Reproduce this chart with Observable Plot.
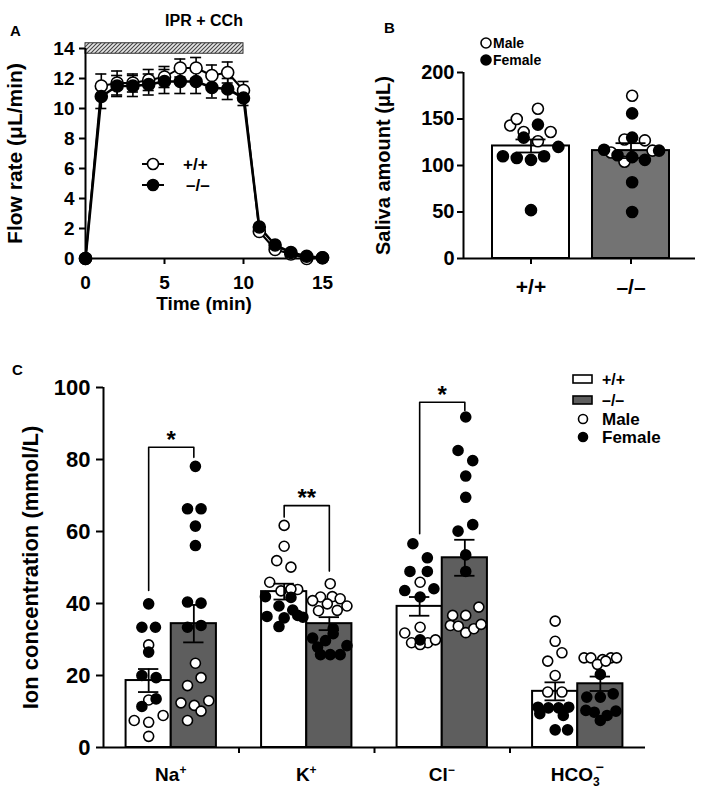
<!DOCTYPE html>
<html><head><meta charset="utf-8">
<script src="https://cdn.jsdelivr.net/npm/d3@7"></script>
<script src="https://cdn.jsdelivr.net/npm/@observablehq/plot@0.6"></script>
<style>
body{margin:0;background:white;}
#fig{position:relative;width:709px;height:791px;overflow:hidden;background:white;}
#fig svg{position:absolute;overflow:visible;}
</style></head><body><div id="fig"></div>
<script>
const FONT = '"Liberation Sans", Arial, Helvetica, sans-serif';

// ---------- Panel A data ----------
const panelATitle = "IPR + CCh";
const timeMin   = [0, 1, 2, 3, 4, 5, 6, 7, 8, 9, 10, 11, 12, 13, 14, 15];
const flowWT    = [0, 11.5, 11.7, 11.7, 11.9, 12.1, 12.7, 12.7, 12.2, 12.4, 11.2, 1.8, 0.6, 0.3, 0.0, 0.05];
const flowWTse  = [0, 0.8, 0.8, 0.6, 0.7, 0.7, 0.6, 0.7, 0.7, 0.7, 0.6, 0.2, 0.2, 0.1, 0.1, 0.05];
const flowKO    = [0, 10.8, 11.5, 11.5, 11.6, 11.8, 11.8, 11.8, 11.4, 11.3, 10.7, 2.1, 0.9, 0.4, 0.15, 0.05];
const flowKOse  = [0, 0.8, 0.7, 0.7, 0.7, 0.8, 0.8, 0.8, 0.7, 0.7, 0.5, 0.2, 0.2, 0.1, 0.1, 0.05];
const stimWindow = [0, 10];      // stimulation period (min)
const stimBand   = [13.65, 14.35];
const flowTicksY = [0, 2, 4, 6, 8, 10, 12, 14];
const flowTicksX = [0, 5, 10, 15];

// ---------- Panel B data ----------
const genotypes = ["+/+", "\u2013/\u2013"];
const salivaMean = [121, 116];
const salivaSE   = [7, 8];
// [value, sex, jitter (fraction of half bar width)]
const salivaWT = [
  [143,"M",-0.54],[150,"M",-0.37],[161,"M",0.18],[136,"M",-0.19],[136,"M",0.51],[126,"M",0.18],
  [144,"F",0.18],[130,"F",-0.19],[120,"F",0.71],[110,"F",-0.73],[108,"F",-0.37],[106,"F",0],[110,"F",0.34],[52,"F",0]
];
const salivaKO = [
  [175,"M",0.03],[128,"M",-0.17],[127,"M",0.36],[114,"M",-0.52],[104,"M",-0.17],[116,"M",0.56],
  [156,"F",0.03],[130,"F",0.03],[117,"F",-0.70],[111,"F",-0.35],[109,"F",0.03],[106,"F",0.36],[116,"F",0.73],[82,"F",0.03],[50,"F",0.03]
];
const salivaTicks = [0, 50, 100, 150, 200];

// ---------- Panel C data ----------
const ionNames  = ["Na", "K", "Cl", "HCO"];
const ionCharge = ["+", "+", "\u2212", "\u2212"];
const ionSub    = ["", "", "", "3"];
const ionMeanWT = [18.6, 43.3, 39.2, 15.6];
const ionSeWT   = [3.2, 2.2, 2.6, 2.5];
const ionMeanKO = [34.4, 34.4, 52.7, 17.7];
const ionSeKO   = [5.2, 1.8, 5.0, 2.0];
const naWT = [[39.9,"F",0],[33.4,"F",-0.3],[33.4,"F",0.3],[28.5,"M",0],[26.5,"F",0],[20,"F",-0.3],[19.4,"F",0.33],
  [13.2,"M",0],[13.5,"F",0.33],[11.4,"F",-0.3],[7.5,"M",-0.64],[7,"M",0],[8.9,"M",0.64],[3.1,"M",0]];
const naKO = [[78.1,"F",0.07],[66.3,"F",-0.28],[66.3,"F",0.32],[61.5,"F",0.07],[56.1,"F",0.07],[40.4,"F",-0.28],[40.1,"F",0.32],
  [33.4,"F",-0.28],[33.9,"F",0.32],[23.4,"M",0.07],[19.4,"M",0.32],[17.2,"M",-0.28],[12.4,"M",-0.57],[11.7,"M",0.02],
  [13,"M",0.66],[10.1,"M",0.32],[7.5,"M",-0.28]];
const kWT = [[61.7,"M",0],[55.9,"M",0],[51.9,"M",-0.33],[50.1,"M",0.3],[45.9,"M",-0.64],[43.9,"M",0.6],[43.5,"M",-0.14],[44,"M",0.3],
  [41.9,"F",-0.83],[41.7,"F",0.3],[39.3,"F",-0.23],[36.4,"F",-0.76],[38.2,"F",0.38],[36.7,"F",0.6],[36.2,"F",0.83],[36,"F",0],[33.6,"F",-0.23]];
const kKO = [[45.5,"M",0.04],[41.8,"M",-0.39],[41.9,"M",0.13],[41.3,"M",0.48],[40.8,"M",-0.74],[39.9,"M",-0.09],[39.3,"M",0.78],[38,"M",-0.48],[38.1,"M",0.35],
  [30.4,"F",-0.74],[29.7,"F",-0.17],[31.6,"F",0.17],[27.9,"F",-0.52],[28.3,"F",0.78],[25.8,"F",-0.39],[25.8,"F",0.04],[25.8,"F",0.48],[33,"F",0.17]];
const clWT = [[56.6,"F",-0.3],[52.7,"F",0.34],[48.9,"F",-0.43],[48.9,"F",0.34],[45.9,"M",0.02],[43.6,"F",-0.66],[44.1,"F",0.63],[41.8,"F",0.02],
  [33.4,"M",0.02],[31.8,"M",-0.66],[29.1,"M",-0.36],[29.1,"M",0.36],[29.9,"M",0.7],[28.6,"M",0.02],[29.9,"F",0.02]];
const clKO = [[91.8,"F",0.04],[82.5,"F",-0.3],[79.7,"F",0.35],[75.4,"F",0.04],[69.5,"F",0.04],[61.9,"F",0.35],[60.1,"F",-0.3],[53.5,"F",0.04],[48.9,"F",0.04],
  [36.7,"M",-0.54],[36.7,"M",0.04],[39,"M",0.62],[33.9,"M",-0.64],[33.7,"M",-0.29],[31.9,"M",0.04],[33,"M",0.4],[34.2,"M",0.72]];
const hcoWT = [[35.1,"M",0],[29.5,"M",0],[26.3,"M",0.3],[24,"M",-0.33],[20,"M",0],[15.4,"M",-0.33],[15.4,"M",0.3],
  [11.2,"F",-0.76],[11,"F",-0.3],[11,"F",0.15],[11.2,"F",0.6],[9.4,"F",-0.68],[8.9,"F",0.36],[4.9,"F",0],[4.9,"F",0.55]];
const hcoKO = [[24.9,"M",-0.72],[24.9,"M",-0.42],[24.4,"M",0.1],[24.9,"M",0.47],[24.9,"M",0.72],[23.1,"M",-0.13],[24,"M",0.24],
  [20.3,"F",0],[14,"F",-0.6],[14,"F",0],[14.9,"F",0.57],[10.3,"F",-0.64],[9.8,"F",-0.27],[10.1,"F",0.69],[8.9,"F",0.3],[7.5,"F",0]];
const ionPointSets = [[naWT, naKO], [kWT, kKO], [clWT, clKO], [hcoWT, hcoKO]];
// significance brackets: ion index, label, WT start, top, KO end
const sigIon   = [0, 1, 2];
const sigLabel = ["*", "**", "*"];
const sigLeft  = [43.6, 64, 59.4];
const sigTop   = [83.4, 67.2, 95.9];
const sigRight = [80.6, 49, 93.6];
const ionTicks = [0, 20, 40, 60, 80, 100];

const fig = document.getElementById("fig");
const baseStyle = (fs) => ({background: "transparent", color: "black", fontFamily: FONT, fontWeight: "bold", fontSize: fs + "px", overflow: "visible"});

function place(svg, left, top) {
  svg.style.left = left + "px"; svg.style.top = top + "px";
  fig.appendChild(svg);
  return d3.select(svg);
}
function addText(sel, x, y, txt, fs, anchor = "start") {
  return sel.append("text").attr("x", x).attr("y", y).attr("dy", "0.35em")
    .attr("font-family", FONT).attr("font-weight", "bold").attr("font-size", fs)
    .attr("text-anchor", anchor).attr("fill", "black").text(txt);
}
const yLabel = (txt, dx, fs) => Plot.text([txt], {text: d => d, frameAnchor: "left", rotate: -90, dx, fontSize: fs, fontWeight: "bold", textAnchor: "middle", lineAnchor: "middle"});

// ================= Panel A =================
const flowWTData = timeMin.map((t, i) => ({t, v: flowWT[i], se: flowWTse[i]}));
const flowKOData = timeMin.map((t, i) => ({t, v: flowKO[i], se: flowKOse[i]}));
const capA = 0.35;
const errA = (data) => [
  Plot.ruleX(data.filter(d => d.se > 0), {x: "t", y1: d => d.v - d.se, y2: d => d.v + d.se, strokeWidth: 1.6}),
  Plot.ruleY(data.filter(d => d.se > 0.3), {y: d => d.v + d.se, x1: d => d.t - capA, x2: d => d.t + capA, strokeWidth: 1.6}),
  Plot.ruleY(data.filter(d => d.se > 0.3), {y: d => d.v - d.se, x1: d => d.t - capA, x2: d => d.t + capA, strokeWidth: 1.6})
];
const chartA = Plot.plot({
  width: 365, height: 310,
  marginLeft: 85, marginRight: 43, marginTop: 48, marginBottom: 52,
  style: baseStyle(18),
  x: {domain: [0, 15]},
  y: {domain: [0, 14]},
  marks: [
    Plot.rect([stimWindow], {x1: d => d[0], x2: d => d[1], y1: stimBand[0], y2: stimBand[1], fill: "url(#hatchA)", stroke: "#333", strokeWidth: 1}),
    Plot.axisY({ticks: flowTicksY, tickSize: 6, tickPadding: 5, label: null, strokeWidth: 2, fontSize: 19}),
    Plot.axisX({ticks: flowTicksX, tickSize: 6, tickPadding: 11, label: null, strokeWidth: 2, fontSize: 19}),
    Plot.ruleX([0], {strokeWidth: 2}),
    Plot.ruleY([0], {strokeWidth: 2}),
    Plot.line(flowWTData, {x: "t", y: "v", stroke: "black", strokeWidth: 2}),
    Plot.line(flowKOData, {x: "t", y: "v", stroke: "black", strokeWidth: 2.6}),
    ...errA(flowWTData),
    ...errA(flowKOData),
    Plot.dot(flowWTData, {x: "t", y: "v", r: 6, fill: "white", stroke: "black", strokeWidth: 1.6}),
    Plot.dot(flowKOData, {x: "t", y: "v", r: 6, fill: "black", stroke: "black", strokeWidth: 1.6}),
    Plot.text([panelATitle], {text: d => d, frameAnchor: "top", dy: -34, fontSize: 16, fontWeight: "bold"}),
    yLabel("Flow rate (\u03bcL/min)", -70, 21),
    Plot.text(["Time (min)"], {text: d => d, frameAnchor: "bottom", dy: 45, fontSize: 19, fontWeight: "bold", lineAnchor: "middle"})
  ]
});
const sA = place(chartA, 0, 0);
const defsA = sA.insert("defs", ":first-child");
const pat = defsA.append("pattern").attr("id", "hatchA").attr("patternUnits", "userSpaceOnUse")
  .attr("width", 4).attr("height", 4);
pat.append("rect").attr("width", 4).attr("height", 4).attr("fill", "#e6e6e6");
pat.append("path").attr("d", "M-1,1 l2,-2 M0,4 l4,-4 M3,5 l2,-2").attr("stroke", "#444").attr("stroke-width", 1.1);
addText(sA, 10, 31, "A", 15);
// legend A
[[164, "white", "+/+", 183], [185, "black", "\u2013/\u2013", 186]].forEach(([y, f, lab, tx]) => {
  sA.append("line").attr("x1", 142).attr("x2", 164).attr("y1", y).attr("y2", y).attr("stroke", "black").attr("stroke-width", 2);
  sA.append("circle").attr("cx", 153).attr("cy", y).attr("r", 5.5).attr("fill", f).attr("stroke", "black").attr("stroke-width", 1.6);
  addText(sA, tx, y, lab, 17);
});

// ================= Panel B =================
const bHalf = 0.385;
const salivaBars = genotypes.map((g, i) => ({i, g, m: salivaMean[i], se: salivaSE[i]}));
const salivaPts = [salivaWT, salivaKO].flatMap((arr, i) => arr.map(([v, s, j]) => ({x: i + j * bHalf, v, s})));
const capB = 0.15;
const chartB = Plot.plot({
  width: 344, height: 310,
  marginLeft: 98, marginRight: 14, marginTop: 72, marginBottom: 52,
  style: baseStyle(19),
  x: {domain: [-0.675, 1.645]},
  y: {domain: [0, 200]},
  marks: [
    Plot.rect(salivaBars, {x1: d => d.i - bHalf, x2: d => d.i + bHalf, y1: 0, y2: "m", fill: d => d.i ? "#737373" : "white", stroke: "black", strokeWidth: 2}),
    Plot.axisY({ticks: salivaTicks, tickSize: 6, tickPadding: 3, label: null, strokeWidth: 2, fontSize: 20}),
    Plot.axisX({ticks: [0, 1], tickFormat: i => genotypes[i], tickSize: 6, tickPadding: 15, label: null, strokeWidth: 2, fontSize: 21}),
    Plot.ruleX([-0.675], {strokeWidth: 2}),
    Plot.ruleY([0], {strokeWidth: 2}),
    Plot.dot(salivaPts, {x: "x", y: "v", r: 5.5, fill: d => d.s === "M" ? "white" : "black", stroke: "black", strokeWidth: 1.6}),
    Plot.ruleX(salivaBars, {x: "i", y1: d => d.m - d.se, y2: d => d.m + d.se, strokeWidth: 1.8}),
    Plot.ruleY(salivaBars, {y: d => d.m + d.se, x1: d => d.i - capB, x2: d => d.i + capB, strokeWidth: 1.8}),
    Plot.ruleY(salivaBars, {y: d => d.m - d.se, x1: d => d.i - capB, x2: d => d.i + capB, strokeWidth: 1.8}),
    yLabel("Saliva amount (\u03bcL)", -80, 20)
  ]
});
const sB = place(chartB, 365, 0);
addText(sB, 19, 28, "B", 15);
[[43, "white", "Male"], [60, "black", "Female"]].forEach(([y, f, lab]) => {
  sB.append("circle").attr("cx", 121).attr("cy", y).attr("r", 5).attr("fill", f).attr("stroke", "black").attr("stroke-width", 1.6);
  addText(sB, 128, y, lab, 14);
});

// ================= Panel C =================
const cHalf = 1 / 6;
const ionBars = ionNames.flatMap((n, i) => [
  {i, g: 0, x: i - cHalf, m: ionMeanWT[i], se: ionSeWT[i]},
  {i, g: 1, x: i + cHalf, m: ionMeanKO[i], se: ionSeKO[i]}
]);
const ionPts = ionPointSets.flatMap((pair, i) => pair.flatMap((arr, g) =>
  arr.map(([v, s, j]) => ({x: i + (g ? cHalf : -cHalf) + j * cHalf, v, s}))));
const capC = 0.075;
const brackets = sigIon.map((ion, k) => [
  {k, x: ion - cHalf, y: sigLeft[k]}, {k, x: ion - cHalf, y: sigTop[k]},
  {k, x: ion + cHalf, y: sigTop[k]}, {k, x: ion + cHalf, y: sigRight[k]}
]).flat();
const chartC = Plot.plot({
  width: 709, height: 431,
  marginLeft: 103, marginRight: 64, marginTop: 27, marginBottom: 44,
  style: baseStyle(22),
  x: {domain: [-0.5, 3.5]},
  y: {domain: [0, 100]},
  marks: [
    Plot.rect(ionBars, {x1: d => d.x - cHalf, x2: d => d.x + cHalf, y1: 0, y2: "m", fill: d => d.g ? "#5e5e5e" : "white", stroke: "black", strokeWidth: 2}),
    Plot.axisY({ticks: ionTicks, tickSize: 7, tickPadding: 6, label: null, strokeWidth: 2, fontSize: 22}),
    Plot.axisX({ticks: [0.5, 1.5, 2.5], tickFormat: () => "", tickSize: 6, label: null, strokeWidth: 2}),
    Plot.ruleX([-0.5], {strokeWidth: 2}),
    Plot.ruleY([0], {strokeWidth: 2}),
    Plot.dot(ionPts, {x: "x", y: "v", r: 5, fill: d => d.s === "M" ? "white" : "black", stroke: "black", strokeWidth: 1.6}),
    Plot.ruleX(ionBars, {x: "x", y1: d => d.m - d.se, y2: d => d.m + d.se, strokeWidth: 1.8}),
    Plot.ruleY(ionBars, {y: d => d.m + d.se, x1: d => d.x - capC, x2: d => d.x + capC, strokeWidth: 1.8}),
    Plot.ruleY(ionBars, {y: d => d.m - d.se, x1: d => d.x - capC, x2: d => d.x + capC, strokeWidth: 1.8}),
    Plot.line(brackets, {x: "x", y: "y", z: "k", stroke: "black", strokeWidth: 1.6}),
    Plot.text(sigIon.map((ion, k) => ({x: ion, y: sigTop[k], t: sigLabel[k]})), {x: "x", y: "y", text: "t", dy: -7, fontSize: 24, fontWeight: "bold"}),
    yLabel("Ion concentration (mmol/L)", -73, 22)
  ]
});
const sC = place(chartC, 0, 360);
const xC = chartC.scale("x");
addText(sC, 12, 10, "C", 15);
ionNames.forEach((n, i) => {
  const t = sC.append("text").attr("x", xC.apply(i)).attr("y", 421).attr("text-anchor", "middle")
    .attr("font-family", FONT).attr("font-weight", "bold").attr("font-size", 19).attr("fill", "black");
  t.append("tspan").text(n);
  if (ionSub[i]) {
    t.append("tspan").attr("font-size", 12).attr("dy", 5).text(ionSub[i]);
    t.append("tspan").attr("font-size", 14).attr("dx", -4).attr("dy", -14).text(ionCharge[i]);
  } else {
    t.append("tspan").attr("font-size", 12).attr("dy", -7).text(ionCharge[i]);
  }
});
// legend C
[[19, "white", "+/+"], [40, "#5e5e5e", "\u2013/\u2013"]].forEach(([y, f, lab]) => {
  sC.append("rect").attr("x", 573).attr("y", y - 4).attr("width", 19).attr("height", 8).attr("fill", f).attr("stroke", "black").attr("stroke-width", 1.6);
  addText(sC, 602, y, lab, 16);
});
[[59, "white", "Male"], [77, "black", "Female"]].forEach(([y, f, lab]) => {
  sC.append("circle").attr("cx", 583).attr("cy", y).attr("r", 4.5).attr("fill", f).attr("stroke", "black").attr("stroke-width", 1.6);
  addText(sC, 602, y, lab, 17);
});
</script></body></html>
